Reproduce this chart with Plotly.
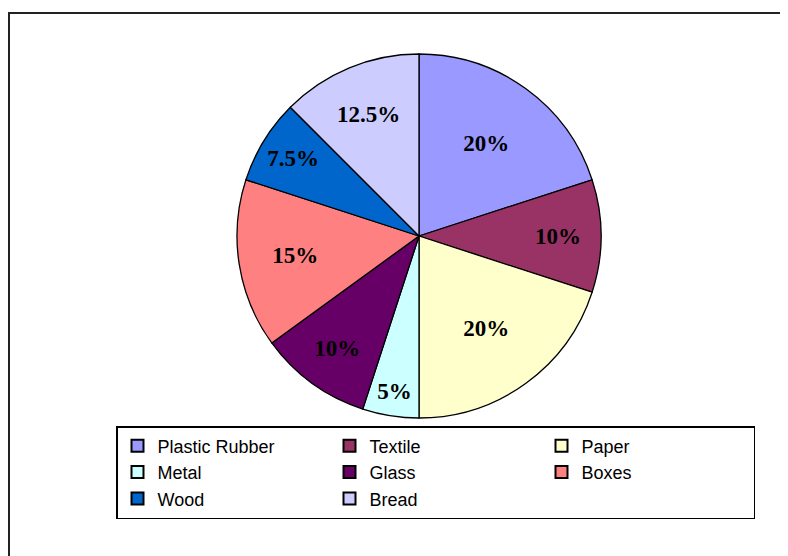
import plotly.graph_objects as go

categories = ["Plastic Rubber", "Textile", "Paper", "Metal", "Glass", "Boxes", "Wood", "Bread"]
values = [20, 10, 20, 5, 10, 15, 7.5, 12.5]
colors = ["#9999FF", "#993366", "#FFFFCC", "#CCFFFF", "#660066", "#FF8080", "#0066CC", "#CCCCFF"]

W, H = 788, 556
# page offset of 8px (body margin) is compensated here
cx, cy, R = 411, 228, 182

fig = go.Figure(go.Pie(
    labels=categories,
    values=values,
    sort=False,
    direction="clockwise",
    rotation=0,
    marker=dict(colors=colors, line=dict(color="black", width=1.3)),
    texttemplate="%{value}%",
    textposition="inside",
    insidetextorientation="horizontal",
    textfont=dict(family="Liberation Serif, Times New Roman, serif", size=23, color="black", weight="bold"),
    domain=dict(x=[(cx - R) / W, (cx + R) / W], y=[1 - (cy + R) / H, 1 - (cy - R) / H]),
    hoverinfo="label+value",
))

fig.update_layout(
    width=W, height=H,
    margin=dict(l=0, r=0, t=0, b=0),
    paper_bgcolor="white",
    plot_bgcolor="white",
    showlegend=True,
    legend=dict(
        orientation="h",
        x=108 / W, xanchor="left",
        y=1 - 418 / H, yanchor="top",
        entrywidth=167,
        bordercolor="black", borderwidth=1.5,
        bgcolor="white",
        font=dict(family="Liberation Sans, Arial, sans-serif", size=18, color="black"),
        tracegroupgap=0,
        itemsizing="constant",
    ),
    shapes=[dict(
        type="rect", xref="paper", yref="paper",
        x0=1 / W, x1=1.2, y0=1 - 5 / H, y1=-0.2,
        line=dict(color="#222222", width=2), fillcolor="rgba(0,0,0,0)", layer="below",
    )],
)

fig.write_html("out.html")
